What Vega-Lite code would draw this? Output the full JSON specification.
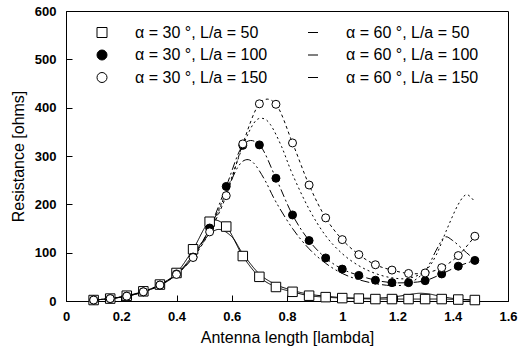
{
  "$schema": "https://vega.github.io/schema/vega-lite/v6.json",
  "autosize": "none",
  "width": 442,
  "height": 290,
  "padding": {"left": 66, "top": 11, "right": 10, "bottom": 53},
  "background": "white",
  "config": {
    "view": {"stroke": "black", "strokeWidth": 1},
    "font": "Liberation Sans",
    "axis": {"domainColor": "black", "tickColor": "black", "labelColor": "black", "titleColor": "black", "grid": false, "labelFont": "Liberation Sans", "titleFont": "Liberation Sans"}
  },
  "datasets": {
    "curves": [
      {"s": "α = 30 °, L/a = 50", "x": 0.1, "r": 2}, {"s": "α = 30 °, L/a = 50", "x": 0.16, "r": 5}, {"s": "α = 30 °, L/a = 50", "x": 0.22, "r": 11}, {"s": "α = 30 °, L/a = 50", "x": 0.28, "r": 20}, {"s": "α = 30 °, L/a = 50", "x": 0.34, "r": 34}, {"s": "α = 30 °, L/a = 50", "x": 0.4, "r": 58}, {"s": "α = 30 °, L/a = 50", "x": 0.46, "r": 107}, {"s": "α = 30 °, L/a = 50", "x": 0.52, "r": 164}, {"s": "α = 30 °, L/a = 50", "x": 0.58, "r": 154}, {"s": "α = 30 °, L/a = 50", "x": 0.64, "r": 93}, {"s": "α = 30 °, L/a = 50", "x": 0.7, "r": 50}, {"s": "α = 30 °, L/a = 50", "x": 0.76, "r": 29}, {"s": "α = 30 °, L/a = 50", "x": 0.82, "r": 19}, {"s": "α = 30 °, L/a = 50", "x": 0.88, "r": 11}, {"s": "α = 30 °, L/a = 50", "x": 0.94, "r": 8}, {"s": "α = 30 °, L/a = 50", "x": 1.0, "r": 6}, {"s": "α = 30 °, L/a = 50", "x": 1.06, "r": 5}, {"s": "α = 30 °, L/a = 50", "x": 1.12, "r": 4}, {"s": "α = 30 °, L/a = 50", "x": 1.18, "r": 4}, {"s": "α = 30 °, L/a = 50", "x": 1.24, "r": 4}, {"s": "α = 30 °, L/a = 50", "x": 1.3, "r": 4}, {"s": "α = 30 °, L/a = 50", "x": 1.36, "r": 4}, {"s": "α = 30 °, L/a = 50", "x": 1.42, "r": 3}, {"s": "α = 30 °, L/a = 50", "x": 1.48, "r": 2},

      {"s": "α = 30 °, L/a = 100", "x": 0.1, "r": 2}, {"s": "α = 30 °, L/a = 100", "x": 0.16, "r": 5}, {"s": "α = 30 °, L/a = 100", "x": 0.22, "r": 10}, {"s": "α = 30 °, L/a = 100", "x": 0.28, "r": 19}, {"s": "α = 30 °, L/a = 100", "x": 0.34, "r": 33}, {"s": "α = 30 °, L/a = 100", "x": 0.4, "r": 56}, {"s": "α = 30 °, L/a = 100", "x": 0.46, "r": 91}, {"s": "α = 30 °, L/a = 100", "x": 0.52, "r": 151}, {"s": "α = 30 °, L/a = 100", "x": 0.58, "r": 237}, {"s": "α = 30 °, L/a = 100", "x": 0.64, "r": 322}, {"s": "α = 30 °, L/a = 100", "x": 0.7, "r": 323}, {"s": "α = 30 °, L/a = 100", "x": 0.76, "r": 254}, {"s": "α = 30 °, L/a = 100", "x": 0.82, "r": 178}, {"s": "α = 30 °, L/a = 100", "x": 0.88, "r": 125}, {"s": "α = 30 °, L/a = 100", "x": 0.94, "r": 89}, {"s": "α = 30 °, L/a = 100", "x": 1.0, "r": 66}, {"s": "α = 30 °, L/a = 100", "x": 1.06, "r": 53}, {"s": "α = 30 °, L/a = 100", "x": 1.12, "r": 43}, {"s": "α = 30 °, L/a = 100", "x": 1.18, "r": 38}, {"s": "α = 30 °, L/a = 100", "x": 1.24, "r": 38}, {"s": "α = 30 °, L/a = 100", "x": 1.3, "r": 42}, {"s": "α = 30 °, L/a = 100", "x": 1.36, "r": 56}, {"s": "α = 30 °, L/a = 100", "x": 1.42, "r": 72}, {"s": "α = 30 °, L/a = 100", "x": 1.48, "r": 84},

      {"s": "α = 30 °, L/a = 150", "x": 0.1, "r": 2}, {"s": "α = 30 °, L/a = 150", "x": 0.16, "r": 5}, {"s": "α = 30 °, L/a = 150", "x": 0.22, "r": 10}, {"s": "α = 30 °, L/a = 150", "x": 0.28, "r": 19}, {"s": "α = 30 °, L/a = 150", "x": 0.34, "r": 33}, {"s": "α = 30 °, L/a = 150", "x": 0.4, "r": 55}, {"s": "α = 30 °, L/a = 150", "x": 0.46, "r": 90}, {"s": "α = 30 °, L/a = 150", "x": 0.52, "r": 143}, {"s": "α = 30 °, L/a = 150", "x": 0.58, "r": 218}, {"s": "α = 30 °, L/a = 150", "x": 0.64, "r": 325}, {"s": "α = 30 °, L/a = 150", "x": 0.7, "r": 408}, {"s": "α = 30 °, L/a = 150", "x": 0.76, "r": 407}, {"s": "α = 30 °, L/a = 150", "x": 0.82, "r": 327}, {"s": "α = 30 °, L/a = 150", "x": 0.88, "r": 240}, {"s": "α = 30 °, L/a = 150", "x": 0.94, "r": 172}, {"s": "α = 30 °, L/a = 150", "x": 1.0, "r": 127}, {"s": "α = 30 °, L/a = 150", "x": 1.06, "r": 96}, {"s": "α = 30 °, L/a = 150", "x": 1.12, "r": 75}, {"s": "α = 30 °, L/a = 150", "x": 1.18, "r": 64}, {"s": "α = 30 °, L/a = 150", "x": 1.24, "r": 57}, {"s": "α = 30 °, L/a = 150", "x": 1.3, "r": 58}, {"s": "α = 30 °, L/a = 150", "x": 1.36, "r": 69}, {"s": "α = 30 °, L/a = 150", "x": 1.42, "r": 94}, {"s": "α = 30 °, L/a = 150", "x": 1.48, "r": 134},

      {"s": "α = 60 °, L/a = 50", "x": 0.1, "r": 2}, {"s": "α = 60 °, L/a = 50", "x": 0.16, "r": 5}, {"s": "α = 60 °, L/a = 50", "x": 0.22, "r": 10}, {"s": "α = 60 °, L/a = 50", "x": 0.28, "r": 19}, {"s": "α = 60 °, L/a = 50", "x": 0.34, "r": 32}, {"s": "α = 60 °, L/a = 50", "x": 0.4, "r": 55}, {"s": "α = 60 °, L/a = 50", "x": 0.46, "r": 95}, {"s": "α = 60 °, L/a = 50", "x": 0.5, "r": 127}, {"s": "α = 60 °, L/a = 50", "x": 0.55, "r": 148}, {"s": "α = 60 °, L/a = 50", "x": 0.6, "r": 133}, {"s": "α = 60 °, L/a = 50", "x": 0.64, "r": 98}, {"s": "α = 60 °, L/a = 50", "x": 0.7, "r": 56}, {"s": "α = 60 °, L/a = 50", "x": 0.76, "r": 34}, {"s": "α = 60 °, L/a = 50", "x": 0.82, "r": 22}, {"s": "α = 60 °, L/a = 50", "x": 0.88, "r": 14}, {"s": "α = 60 °, L/a = 50", "x": 0.94, "r": 10}, {"s": "α = 60 °, L/a = 50", "x": 1.0, "r": 7}, {"s": "α = 60 °, L/a = 50", "x": 1.06, "r": 6}, {"s": "α = 60 °, L/a = 50", "x": 1.12, "r": 6}, {"s": "α = 60 °, L/a = 50", "x": 1.18, "r": 8}, {"s": "α = 60 °, L/a = 50", "x": 1.24, "r": 13}, {"s": "α = 60 °, L/a = 50", "x": 1.28, "r": 16}, {"s": "α = 60 °, L/a = 50", "x": 1.32, "r": 14}, {"s": "α = 60 °, L/a = 50", "x": 1.36, "r": 9}, {"s": "α = 60 °, L/a = 50", "x": 1.42, "r": 4}, {"s": "α = 60 °, L/a = 50", "x": 1.48, "r": 2},

      {"s": "α = 60 °, L/a = 100", "x": 0.1, "r": 2}, {"s": "α = 60 °, L/a = 100", "x": 0.16, "r": 5}, {"s": "α = 60 °, L/a = 100", "x": 0.22, "r": 10}, {"s": "α = 60 °, L/a = 100", "x": 0.28, "r": 19}, {"s": "α = 60 °, L/a = 100", "x": 0.34, "r": 33}, {"s": "α = 60 °, L/a = 100", "x": 0.4, "r": 56}, {"s": "α = 60 °, L/a = 100", "x": 0.46, "r": 92}, {"s": "α = 60 °, L/a = 100", "x": 0.52, "r": 150}, {"s": "α = 60 °, L/a = 100", "x": 0.58, "r": 225}, {"s": "α = 60 °, L/a = 100", "x": 0.62, "r": 275}, {"s": "α = 60 °, L/a = 100", "x": 0.65, "r": 292}, {"s": "α = 60 °, L/a = 100", "x": 0.68, "r": 285}, {"s": "α = 60 °, L/a = 100", "x": 0.72, "r": 250}, {"s": "α = 60 °, L/a = 100", "x": 0.76, "r": 205}, {"s": "α = 60 °, L/a = 100", "x": 0.82, "r": 150}, {"s": "α = 60 °, L/a = 100", "x": 0.88, "r": 108}, {"s": "α = 60 °, L/a = 100", "x": 0.94, "r": 78}, {"s": "α = 60 °, L/a = 100", "x": 1.0, "r": 57}, {"s": "α = 60 °, L/a = 100", "x": 1.06, "r": 44}, {"s": "α = 60 °, L/a = 100", "x": 1.12, "r": 36}, {"s": "α = 60 °, L/a = 100", "x": 1.18, "r": 32}, {"s": "α = 60 °, L/a = 100", "x": 1.24, "r": 36}, {"s": "α = 60 °, L/a = 100", "x": 1.3, "r": 62}, {"s": "α = 60 °, L/a = 100", "x": 1.34, "r": 105}, {"s": "α = 60 °, L/a = 100", "x": 1.37, "r": 132}, {"s": "α = 60 °, L/a = 100", "x": 1.4, "r": 125}, {"s": "α = 60 °, L/a = 100", "x": 1.44, "r": 105}, {"s": "α = 60 °, L/a = 100", "x": 1.48, "r": 85},

      {"s": "α = 60 °, L/a = 150", "x": 0.1, "r": 2}, {"s": "α = 60 °, L/a = 150", "x": 0.16, "r": 5}, {"s": "α = 60 °, L/a = 150", "x": 0.22, "r": 10}, {"s": "α = 60 °, L/a = 150", "x": 0.28, "r": 19}, {"s": "α = 60 °, L/a = 150", "x": 0.34, "r": 33}, {"s": "α = 60 °, L/a = 150", "x": 0.4, "r": 55}, {"s": "α = 60 °, L/a = 150", "x": 0.46, "r": 90}, {"s": "α = 60 °, L/a = 150", "x": 0.52, "r": 145}, {"s": "α = 60 °, L/a = 150", "x": 0.58, "r": 225}, {"s": "α = 60 °, L/a = 150", "x": 0.64, "r": 320}, {"s": "α = 60 °, L/a = 150", "x": 0.68, "r": 368}, {"s": "α = 60 °, L/a = 150", "x": 0.71, "r": 378}, {"s": "α = 60 °, L/a = 150", "x": 0.74, "r": 365}, {"s": "α = 60 °, L/a = 150", "x": 0.78, "r": 320}, {"s": "α = 60 °, L/a = 150", "x": 0.82, "r": 262}, {"s": "α = 60 °, L/a = 150", "x": 0.88, "r": 190}, {"s": "α = 60 °, L/a = 150", "x": 0.94, "r": 135}, {"s": "α = 60 °, L/a = 150", "x": 1.0, "r": 98}, {"s": "α = 60 °, L/a = 150", "x": 1.06, "r": 73}, {"s": "α = 60 °, L/a = 150", "x": 1.12, "r": 57}, {"s": "α = 60 °, L/a = 150", "x": 1.18, "r": 48}, {"s": "α = 60 °, L/a = 150", "x": 1.24, "r": 47}, {"s": "α = 60 °, L/a = 150", "x": 1.3, "r": 62}, {"s": "α = 60 °, L/a = 150", "x": 1.34, "r": 95}, {"s": "α = 60 °, L/a = 150", "x": 1.38, "r": 150}, {"s": "α = 60 °, L/a = 150", "x": 1.42, "r": 200}, {"s": "α = 60 °, L/a = 150", "x": 1.45, "r": 220}, {"s": "α = 60 °, L/a = 150", "x": 1.48, "r": 205}
    ]
  },
  "data": {"name": "curves"},
  "layer": [
    {
      "mark": {"type": "line", "color": "black", "strokeWidth": 1, "interpolate": "cardinal"},
      "encoding": {
        "x": {"field": "x", "type": "quantitative", "scale": {"domain": [0, 1.6], "nice": false},
          "axis": {"orient": "bottom", "values": [0, 0.2, 0.4, 0.6, 0.8, 1, 1.2, 1.4, 1.6], "format": "~g", "tickSize": -6, "labelPadding": 15, "labelFontSize": 13, "labelFontWeight": "bold", "labelFlush": false, "title": "Antenna length [lambda]", "titleFontSize": 16, "titleFontWeight": "normal", "titlePadding": 6}},
        "y": {"field": "r", "type": "quantitative", "scale": {"domain": [0, 600], "nice": false},
          "axis": {"orient": "left", "values": [0, 100, 200, 300, 400, 500, 600], "format": "d", "tickSize": -6, "labelPadding": 16, "labelFontSize": 13, "labelFontWeight": "bold", "labelFlush": false, "title": "Resistance [ohms]", "titleFontSize": 16, "titleFontWeight": "normal", "titlePadding": 8}},
        "detail": {"field": "s"},
        "strokeDash": {"field": "s", "type": "nominal", "legend": null,
          "scale": {"domain": ["α = 60 °, L/a = 150", "α = 60 °, L/a = 100", "α = 60 °, L/a = 50", "α = 30 °, L/a = 150", "α = 30 °, L/a = 100", "α = 30 °, L/a = 50"],
            "range": [[2, 3], [9, 3, 2, 3, 2, 3], [1, 0], [3, 3], [8, 3, 2, 3], [1, 0]]}}
      }
    },
    {
      "transform": [{"filter": "datum.s == 'α = 30 °, L/a = 50'"}],
      "mark": {"type": "point", "shape": "square", "size": 90, "filled": true, "fill": "white", "stroke": "black", "strokeWidth": 1, "opacity": 1},
      "encoding": {"x": {"field": "x", "type": "quantitative"}, "y": {"field": "r", "type": "quantitative"}}
    },
    {
      "transform": [{"filter": "datum.s == 'α = 30 °, L/a = 100'"}],
      "mark": {"type": "point", "shape": "circle", "size": 64, "filled": true, "fill": "black", "stroke": "black", "strokeWidth": 1, "opacity": 1},
      "encoding": {"x": {"field": "x", "type": "quantitative"}, "y": {"field": "r", "type": "quantitative"}}
    },
    {
      "transform": [{"filter": "datum.s == 'α = 30 °, L/a = 150'"}],
      "mark": {"type": "point", "shape": "circle", "size": 64, "filled": true, "fill": "white", "stroke": "black", "strokeWidth": 1, "opacity": 1},
      "encoding": {"x": {"field": "x", "type": "quantitative"}, "y": {"field": "r", "type": "quantitative"}}
    },
    {
      "transform": [{"filter": "datum.x > 2"}],
      "mark": {"type": "point", "filled": true, "size": 100, "stroke": "black", "strokeWidth": 1, "opacity": 1},
      "encoding": {
        "x": {"field": "x", "type": "quantitative"},
        "y": {"field": "r", "type": "quantitative"},
        "shape": {"field": "s", "type": "nominal",
          "scale": {"domain": ["α = 30 °, L/a = 50", "α = 30 °, L/a = 100", "α = 30 °, L/a = 150", "α = 60 °, L/a = 50", "α = 60 °, L/a = 100", "α = 60 °, L/a = 150"],
            "range": ["square", "circle", "circle", "stroke", "stroke", "stroke"]},
          "legend": {"title": null, "orient": "none", "legendX": 28, "legendY": 13.5, "columns": 2, "columnPadding": 37, "rowPadding": 6.5, "padding": 0, "labelOffset": 25, "labelFont": "Liberation Sans", "labelFontSize": 16, "labelColor": "black", "symbolStrokeColor": "black", "symbolStrokeWidth": 1, "symbolSize": 100,
            "encoding": {"symbols": {
              "shape": {"condition": [
                {"test": "datum.value == 'α = 30 °, L/a = 50'", "value": "M-4.6,0H-1.1M1.1,0H4.6M-1.1,-1.1H1.1V1.1H-1.1Z"},
                {"test": "datum.value == 'α = 30 °, L/a = 100'", "value": "M-4.6,0H-3M-2.4,0H-2M-1.4,0H-1M1,0H1.4M2,0H2.4M3,0H4.6M1,0L0.87,0.5L0.5,0.87L0,1L-0.5,0.87L-0.87,0.5L-1,0L-0.87,-0.5L-0.5,-0.87L0,-1L0.5,-0.87L0.87,-0.5Z"},
                {"test": "datum.value == 'α = 30 °, L/a = 150'", "value": "M-4.6,0H-4M-3.4,0H-2.8M-2.2,0H-1.6M1.6,0H2.2M2.8,0H3.4M4,0H4.6M1,0L0.87,0.5L0.5,0.87L0,1L-0.5,0.87L-0.87,0.5L-1,0L-0.87,-0.5L-0.5,-0.87L0,-1L0.5,-0.87L0.87,-0.5Z"},
                {"test": "datum.value == 'α = 60 °, L/a = 50'", "value": "M-4.6,0H4.6"},
                {"test": "datum.value == 'α = 60 °, L/a = 100'", "value": "M-4.6,0H-3M-2.4,0H-2M-1.4,0H0.2M0.8,0H1.2M1.8,0H3.4M4,0H4.4"}
              ], "value": "M-4.6,0H-4M-3.4,0H-2.8M-2.2,0H-1.6M-1,0H-0.4M0.2,0H0.8M1.4,0H2M2.6,0H3.2M3.8,0H4.4"},
              "stroke": {"value": "black"},
              "strokeWidth": {"value": 1},
              "opacity": {"value": 1}
            }}}},
        "fill": {"field": "s", "type": "nominal",
          "scale": {"domain": ["α = 30 °, L/a = 50", "α = 30 °, L/a = 100", "α = 30 °, L/a = 150", "α = 60 °, L/a = 50", "α = 60 °, L/a = 100", "α = 60 °, L/a = 150"],
            "range": ["white", "black", "white", "white", "white", "white"]},
          "legend": {"title": null}}
      }
    }
  ]
}
